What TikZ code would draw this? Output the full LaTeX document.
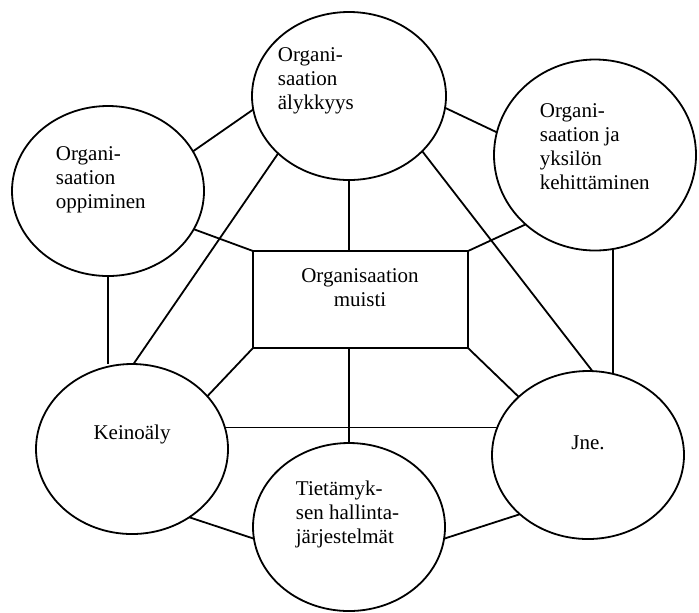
\documentclass[tikz,border=0pt]{standalone}
\usepackage{fontspec}
\setmainfont{Liberation Serif}
\usetikzlibrary{shapes.geometric}

\begin{document}
\begin{tikzpicture}[x=0.5pt,y=-0.5pt,line width=0.9pt,
main/.style = {draw, ellipse, inner sep=0pt, outer sep=0pt},
box/.style = {draw, rectangle, inner sep=0pt, outer sep=0pt},
txt/.style = {align=left, inner sep=0pt, font=\fontsize{10.5}{12}\selectfont}]
\useasboundingbox (0,0) rectangle (699,612);
\node[main, minimum width=97pt, minimum height=84pt] (aly) at (349,96) {};
\node[main, minimum width=96pt, minimum height=85pt] (opp) at (108,191) {};
\node[main, minimum width=101pt, minimum height=95.5pt] (keh) at (595,155) {};
\node[box, minimum width=107.5pt, minimum height=48.5pt] (mui) at (360.5,299.5) {};
\node[main, minimum width=96pt, minimum height=85pt] (kei) at (132,449) {};
\node[main, minimum width=96pt, minimum height=84pt] (tie) at (349,527) {};
\node[main, minimum width=96pt, minimum height=84pt] (jne) at (588,455) {};
\node[txt, anchor=west] (aly-t) at (277,81) {Organi-\\saation\\älykkyys};
\node[txt, anchor=west] (opp-t) at (55,180) {Organi-\\saation\\oppiminen};
\node[txt, anchor=west] (keh-t) at (539,147) {Organi-\\saation ja\\yksilön\\kehittäminen};
\node[txt, align=center] (mui-t) at (360,288) {Organisaation\\muisti};
\node[txt] (kei-t) at (132,434) {Keinoäly};
\node[txt, anchor=west] (tie-t) at (295,514) {Tietämyk-\\sen hallinta-\\järjestelmät};
\node[txt] (jne-t) at (588,443) {Jne.};
\draw (opp.25) -- (aly.188);
\draw (aly.219) -- (kei.89);
\draw (aly.south) -- (aly.south |- mui.north);
\draw (opp.336) -- (mui.north west);
\draw (opp.south) -- (opp.south |- kei.north);
\draw (aly.353) -- (keh.167);
\draw (keh.225) -- (mui.north east);
\draw (aly.323) -- (jne.87);
\draw (keh.-79) -- (keh.-79 |- jne.72);
\draw (mui.south west) -- (kei.35);
\draw (mui.south east) -- (jne.140);
\draw (tie.north |- mui.south) -- (tie.north);
\draw (kei.13) -- (kei.13 -| jne.163);
\draw (kei.310) -- (tie.187);
\draw (jne.221) -- (tie.353);
\end{tikzpicture}
\end{document}
